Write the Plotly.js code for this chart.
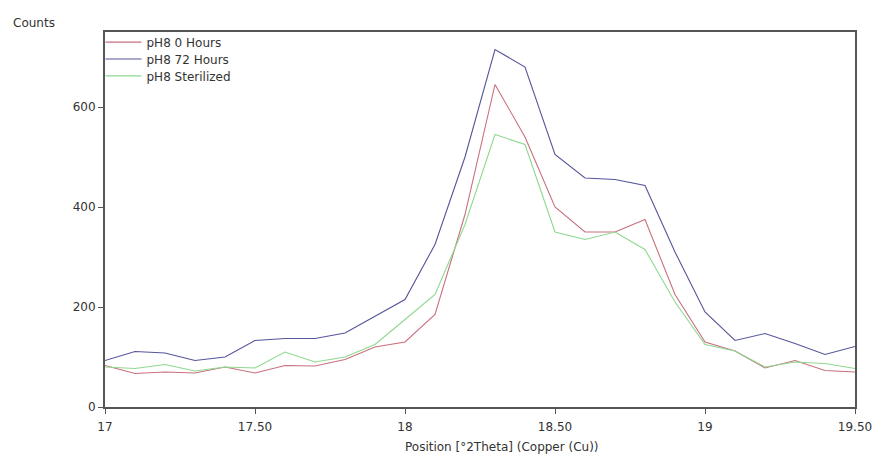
<!DOCTYPE html>
<html>
<head>
<meta charset="utf-8">
<script src="https://cdn.plot.ly/plotly-3.0.1.min.js"></script>
<style>html,body{margin:0;padding:0;background:#fff}#chart{width:878px;height:459px}</style>
</head>
<body>
<div id="chart"></div>
<script>
const positions = [17.0,17.1,17.2,17.3,17.4,17.5,17.6,17.7,17.8,17.9,18.0,18.1,18.2,18.3,18.4,18.5,18.6,18.7,18.8,18.9,19.0,19.1,19.2,19.3,19.4,19.5];
const hours0 = [83,67,70,68,80,68,83,82,95,120,130,185,385,645,540,400,350,350,375,225,130,112,78,93,73,70];
const hours72 = [93,111,108,93,100,133,137,137,148,182,215,325,500,715,680,505,458,455,443,310,190,133,147,127,105,121];
const sterilized = [80,77,85,72,80,78,110,90,100,125,175,225,365,545,525,350,335,350,315,210,125,112,80,90,87,77];
const seriesNames = ["pH8 0 Hours","pH8 72 Hours","pH8 Sterilized"];
const xTickVals = [17,17.5,18,18.5,19,19.5];
const xTickText = ["17","17.50","18","18.50","19","19.50"];
const yTickVals = [0,200,400,600];
const xTitle = "Position [°2Theta] (Copper (Cu))";
const yTitle = "Counts";

const colors = ["#c8707e","#55559a","#8fd88f"];
const legendIds = ["legend","legend2","legend3"];
const traces = [hours0, hours72, sterilized].map((ys,i)=>({
  x: positions, y: ys, type:"scatter", mode:"lines", name: seriesNames[i],
  legend: legendIds[i],
  line:{color:colors[i], width:1.1}
}));

const FONT = "DejaVu Sans, Liberation Sans, Arial, sans-serif";
const legendRowY = [0.973, 0.928, 0.883];
const legendBase = {x:-0.006, xanchor:"left", yanchor:"middle", bgcolor:"rgba(0,0,0,0)", font:{size:12,color:"#333"}, itemwidth:36};

const layout = {
  width:878, height:459,
  margin:{l:105,r:23,t:32,b:52},
  paper_bgcolor:"#fff", plot_bgcolor:"#fff",
  font:{family:FONT, size:12, color:"#333"},
  showlegend:true,
  legend:Object.assign({}, legendBase, {y:legendRowY[0]}),
  legend2:Object.assign({}, legendBase, {y:legendRowY[1]}),
  legend3:Object.assign({}, legendBase, {y:legendRowY[2]}),
  xaxis:{range:[17,19.5], tickvals:xTickVals, ticktext:xTickText, showgrid:false, zeroline:false,
    showline:true, linecolor:"#555", linewidth:2, mirror:true, ticks:"outside", ticklen:5, tickcolor:"#555",
    ticklabelstandoff:3, tickfont:{size:12,color:"#333"}},
  yaxis:{range:[0,750], tickvals:yTickVals, showgrid:false, zeroline:false,
    showline:true, linecolor:"#555", linewidth:2, mirror:true, ticks:"outside", ticklen:5, tickcolor:"#555",
    tickfont:{size:12,color:"#333"}},
  annotations:[
    {text:yTitle, xref:"paper", yref:"paper", x:-0.125, y:1.0, xanchor:"left", yanchor:"bottom", showarrow:false, font:{size:12,color:"#333"}},
    {text:xTitle, xref:"paper", yref:"paper", x:0.529, y:-0.107, xanchor:"center", yanchor:"middle", showarrow:false, font:{size:12,color:"#333"}}
  ]
};
Plotly.newPlot("chart", traces, layout, {displayModeBar:false, staticPlot:true});
</script>
</body>
</html>
